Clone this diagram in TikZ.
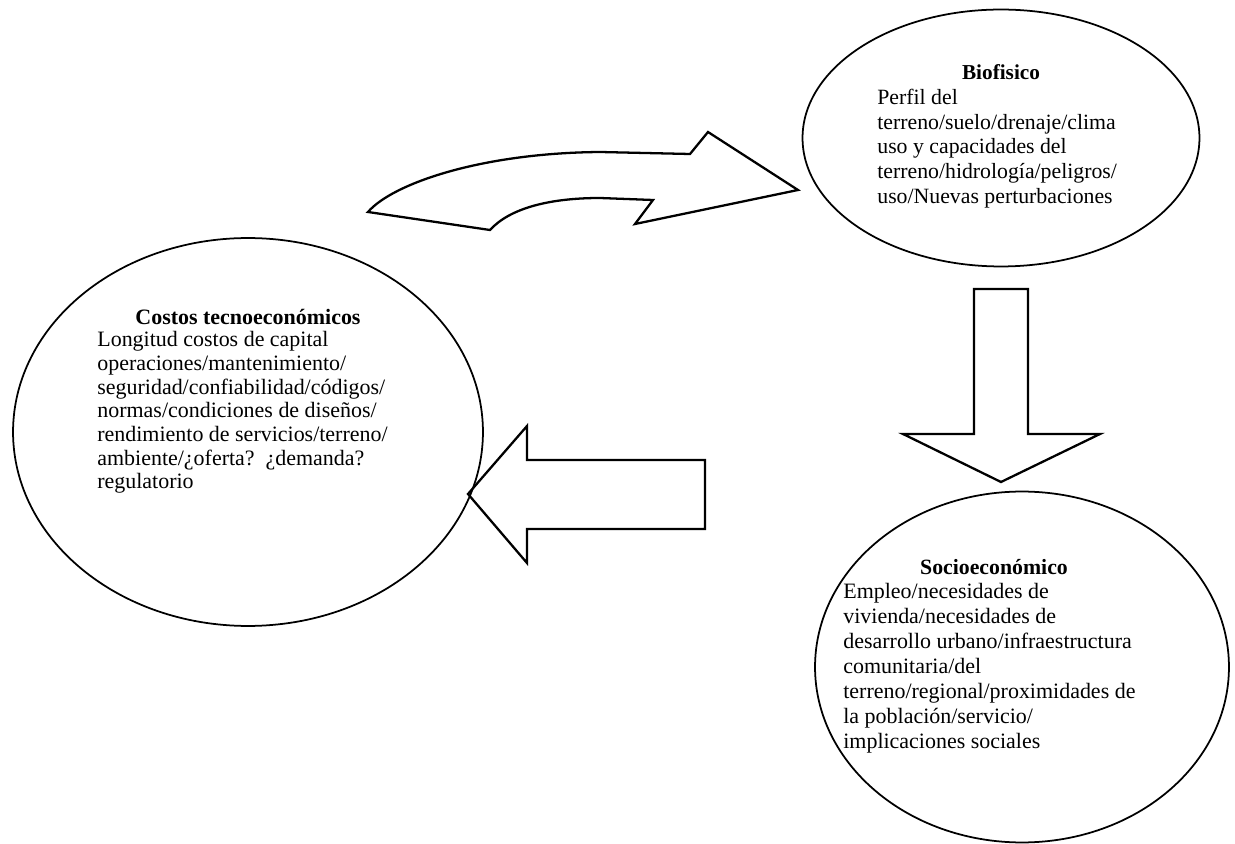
\documentclass[tikz,border=0pt]{standalone}
\usepackage{fontspec}
\setmainfont{Liberation Serif}
\usetikzlibrary{shapes.geometric}

\begin{document}
\begin{tikzpicture}[x=0.02cm, y=-0.02cm,
    zone/.style={ellipse, draw, line width=1pt, inner sep=0pt},
    zonetitle/.style={font=\fontsize{#1}{14}\selectfont\bfseries, inner sep=0pt},
    zonebody/.style 2 args={font=\fontsize{#1}{#2}\selectfont, align=left, anchor=north west, inner sep=0pt},
    blockarrow/.style={draw, line width=1.3pt, line join=miter}
]
    \useasboundingbox (0,0) rectangle (1235,844);

    % Biofisico
    \node[zone, minimum width=7.94cm, minimum height=5.14cm] (bio) at (1001,138) {};
    \node[zonetitle=12.1] (biotitle) at (1001,72) {Biofisico};
    \node[zonebody={12.4}{14}] (biobody) at (877,89) {Perfil del\\
        terreno/suelo/drenaje/clima\\
        uso y capacidades del\\
        terreno/hidrología/peligros/\\
        uso/Nuevas perturbaciones};

    % Costos tecnoeconomicos
    \node[zone, minimum width=9.4cm, minimum height=7.76cm] (tec) at (248,432) {};
    \node[zonetitle=12.5] (tectitle) at (248,317) {Costos tecnoeconómicos};
    \node[zonebody={12.5}{13.5}] (tecbody) at (97,331) {Longitud costos de capital\\
        operaciones/mantenimiento/\\
        seguridad/confiabilidad/códigos/\\
        normas/condiciones de diseños/\\
        rendimiento de servicios/terreno/\\
        ambiente/¿oferta?~~¿demanda?\\
        regulatorio};

    % Socioeconomico
    \node[zone, minimum width=8.28cm, minimum height=7.02cm] (soc) at (1022,667) {};
    \node[zonetitle=12.4] (soctitle) at (994,567) {Socioeconómico};
    \node[zonebody={12.5}{14.2}] (socbody) at (843,583) {Empleo/necesidades de\\
        vivienda/necesidades de\\
        desarrollo urbano/infraestructura\\
        comunitaria/del\\
        terreno/regional/proximidades de\\
        la población/servicio/\\
        implicaciones sociales};

    % Curved arrow towards Biofisico
    \draw[blockarrow] (368,212) .. controls (392,184) and (480,153) .. (600,152)
        -- (690,154) -- (708,132) -- (798,190) -- (635,224) -- (653,200)
        -- (600,198) .. controls (550,198) and (510,208) .. (490,230) -- cycle;

    % Down arrow towards Socioeconomico
    \draw[blockarrow] (974,289) -- (1028,289) -- (1028,434) -- (1100,434)
        -- (1001,482) -- (903,434) -- (974,434) -- cycle;

    % Left arrow towards Costos
    \draw[blockarrow] (705,460) -- (705,529) -- (527,529) -- (527,563)
        -- (468,494) -- (527,426) -- (527,460) -- cycle;
\end{tikzpicture}
\end{document}
